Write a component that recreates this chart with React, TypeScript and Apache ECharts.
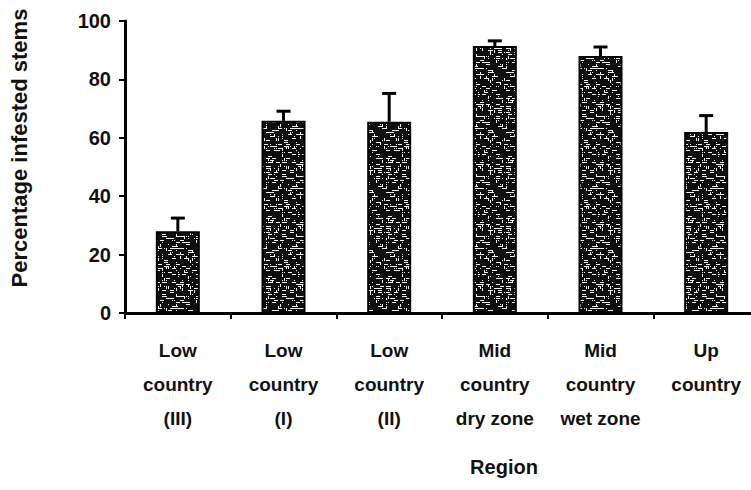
import React, { useEffect, useRef } from "react";
import * as echarts from "echarts";

// Regions surveyed, in plotting order
const regions: string[] = [
  "Low\ncountry\n(III)",
  "Low\ncountry\n(I)",
  "Low\ncountry\n(II)",
  "Mid\ncountry\ndry zone",
  "Mid\ncountry\nwet zone",
  "Up\ncountry",
];

// Mean percentage of infested stems per region
const infestedMean: number[] = [28, 65.8, 65.5, 91.4, 88, 62];

// Standard error (upper whisker) per region
const infestedSE: number[] = [4.5, 3.3, 9.7, 1.8, 3.1, 5.6];

// Value axis ticks
const yTicks: number[] = [0, 20, 40, 60, 80, 100];

const FONT = "'Liberation Sans', Arial, Helvetica, sans-serif";

// Stippled fill: dark ground with pale flecks, generated from a fixed hash
function makeStipple(): HTMLCanvasElement {
  const size = 60;
  const c = document.createElement("canvas");
  c.width = size;
  c.height = size;
  const ctx = c.getContext("2d")!;
  ctx.fillStyle = "#0e0e0e";
  ctx.fillRect(0, 0, size, size);
  ctx.fillStyle = "#f0f0f0";
  const hash = (x: number, y: number) => {
    let h = (x * 374761393 + y * 668265263) | 0;
    h = Math.imul(h ^ (h >>> 13), 1274126177);
    h = (h ^ (h >>> 16)) >>> 0;
    return (h % 10000) / 10000;
  };
  for (let y = 0; y < size; y += 2) {
    for (let x = 0; x < size; x += 2) {
      const v = hash(x, y);
      if (v < 0.1) {
        ctx.fillRect(x, y, 4, 1);
      } else if (v < 0.17) {
        ctx.fillRect(x, y, 1, 3);
      } else if (v < 0.27) {
        ctx.fillRect(x, y, 1, 1);
      }
    }
  }
  return c;
}

export default function App() {
  const ref = useRef<HTMLDivElement>(null);

  useEffect(() => {
    if (!ref.current) return;
    const chart = echarts.init(ref.current, undefined, { renderer: "svg" });

    const stipple = makeStipple();
    const whiskers = infestedMean.map((m, i) => [i, m, m + infestedSE[i]]);

    chart.setOption({
      animation: false,
      backgroundColor: "#ffffff",
      grid: { left: 125, top: 21, width: 634, height: 292 },
      xAxis: {
        type: "category",
        data: regions,
        axisLine: { lineStyle: { color: "#000", width: 3 } },
        axisTick: { show: true, length: 6, lineStyle: { color: "#000", width: 2 } },
        axisLabel: {
          color: "#111",
          fontFamily: FONT,
          fontSize: 19,
          fontWeight: "bold",
          lineHeight: 34,
          margin: 20,
          interval: 0,
        },
      },
      yAxis: {
        type: "value",
        min: yTicks[0],
        max: yTicks[yTicks.length - 1],
        interval: yTicks[1] - yTicks[0],
        splitLine: { show: false },
        axisLine: { show: true, lineStyle: { color: "#000", width: 3 } },
        axisTick: { show: true, length: 6, lineStyle: { color: "#000", width: 2 } },
        axisLabel: {
          color: "#111",
          fontFamily: FONT,
          fontSize: 20,
          fontWeight: "bold",
          margin: 14,
        },
      },
      graphic: [
        {
          type: "text",
          x: 19,
          y: 148,
          rotation: Math.PI / 2,
          style: {
            text: "Percentage infested stems",
            font: `bold 22px ${FONT}`,
            fill: "#111",
            align: "center",
            verticalAlign: "middle",
          },
        },
        {
          type: "text",
          x: 504,
          y: 467,
          style: {
            text: "Region",
            font: `bold 20px ${FONT}`,
            fill: "#111",
            align: "center",
            verticalAlign: "middle",
          },
        },
      ],
      series: [
        {
          type: "bar",
          data: infestedMean,
          barWidth: 44,
          itemStyle: {
            color: { image: stipple, repeat: "repeat" },
            borderColor: "#000",
            borderWidth: 2,
          },
        },
        {
          type: "custom",
          data: whiskers,
          z: 5,
          renderItem: (params: any, api: any) => {
            const i = api.value(0);
            const base = api.coord([i, api.value(1)]);
            const top = api.coord([i, api.value(2)]);
            const half = 7;
            return {
              type: "group",
              children: [
                {
                  type: "line",
                  shape: { x1: base[0], y1: base[1], x2: top[0], y2: top[1] },
                  style: { stroke: "#000", lineWidth: 3 },
                },
                {
                  type: "line",
                  shape: { x1: top[0] - half, y1: top[1], x2: top[0] + half, y2: top[1] },
                  style: { stroke: "#000", lineWidth: 3 },
                },
              ],
            };
          },
        },
      ],
    });

    return () => chart.dispose();
  }, []);

  return (
    <div
      style={{
        position: "fixed",
        left: 0,
        top: 0,
        width: 751,
        height: 490,
        overflow: "hidden",
        background: "#fff",
      }}
    >
      <div ref={ref} style={{ width: 770, height: 490 }} />
    </div>
  );
}
